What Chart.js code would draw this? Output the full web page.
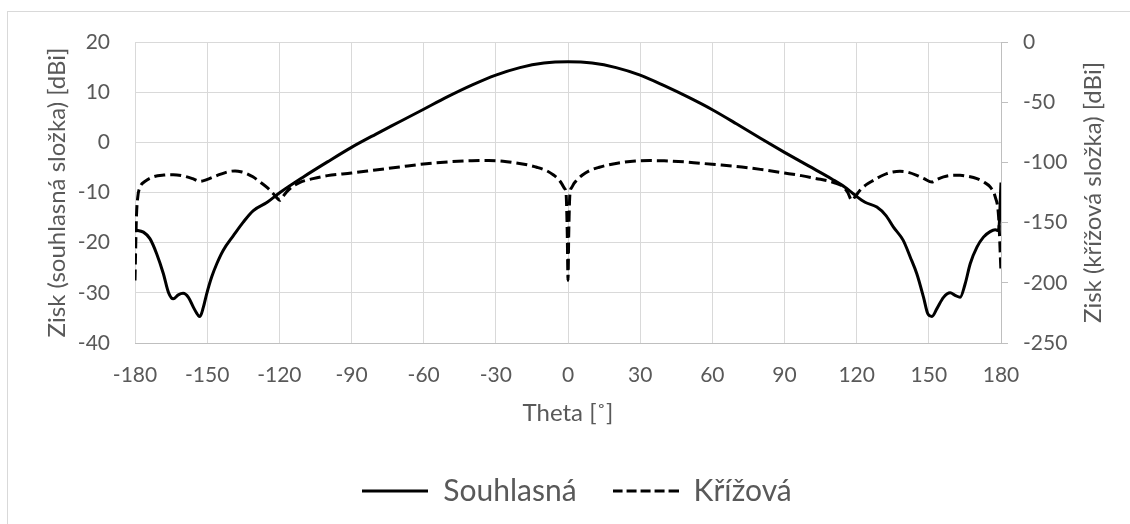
<!DOCTYPE html>
<html><head><meta charset="utf-8">
<script src="https://cdn.jsdelivr.net/npm/chart.js@4"></script>
<style>html,body{margin:0;padding:0;background:#fff;overflow:hidden}</style>
</head><body>
<canvas id="c" width="1130" height="524"></canvas>
<script>
// ---- data ----
const xTickValues = [-180,-150,-120,-90,-60,-30,0,30,60,90,120,150,180];
const yLeftTicks = [20,10,0,-10,-20,-30,-40];
const yRightTicks = [0,-50,-100,-150,-200,-250];

const thetaS = [-180,-176.5,-173.8,-171,-168.2,-166.1,-164.1,-162,-160,-157.8,-155.7,-153.7,-153,-151.6,-150.2,-148.1,-146,-143.3,-139.1,-135,-130.8,-125.2,-120,-110,-100,-90,-80,-70,-60,-50,-40,-30,-20,-10,0,10,20,30,40,50,60,70,80,90,100,110,115,118.7,123.5,128.4,132.2,135.3,139.3,142.3,145,147.8,149.6,151.3,153.3,156.1,158.9,160.9,163,165.1,167.2,170,172.7,175.5,177.6,179,180];
const gainS = [-17.45,-17.9,-19.2,-22.2,-26.2,-29.9,-31.2,-30.4,-30.1,-30.9,-32.9,-34.5,-34.7,-32.9,-30.2,-26.8,-24.2,-21.5,-18.6,-15.9,-13.6,-12.0,-10.1,-6.9,-3.9,-1.0,1.6,4.1,6.6,9.1,11.4,13.4,14.9,15.8,16.05,15.8,14.9,13.4,11.3,9.0,6.5,3.7,0.8,-2.0,-4.7,-7.4,-8.9,-10.3,-11.95,-12.9,-14.6,-16.9,-19.5,-22.9,-26.2,-30.9,-34.2,-34.7,-33.2,-30.9,-30.0,-30.5,-30.9,-28.2,-24.2,-20.9,-18.9,-17.8,-17.45,-17.6,-8.0];

const thetaX = [-180,-179.4,-178.8,-178,-176,-172.4,-168,-164.1,-160,-156,-153,-150.2,-147,-144.7,-141,-138.4,-135.5,-133.6,-131,-128,-125,-122.5,-120.5,-119.7,-118.7,-117,-114.5,-111.4,-106,-100,-90,-80,-70,-60,-50,-40,-33,-27,-22,-17,-13,-9,-6,-4,-2.5,-1.5,-0.8,-0.3,0,0.3,0.8,1.5,2.5,4,6,9,13,17,22,28,34,40,50,60,70,80,90,97,103.4,108,111.8,114.5,116.3,118,119.5,121.4,124,127,130,132.5,135,138,141,145,148,151.3,153.5,156.1,159,163,166,170,173,175.5,177.6,179,180];
const gainX = [-198,-145,-128,-121,-116,-112,-110.5,-110.2,-111.2,-113.5,-115.7,-114.3,-111.8,-110,-107.6,-107.1,-108,-109.3,-112,-116.3,-121,-126,-130.5,-131.5,-129,-124.5,-120,-116.5,-113.5,-111,-108.8,-106.3,-103.8,-101.3,-99.6,-98.6,-98.4,-99.0,-100.3,-102.0,-104.0,-106.8,-110.5,-114,-118,-121.5,-126,-160,-198,-160,-126,-121,-117.5,-114,-110.5,-106.8,-104.0,-102.0,-100.2,-98.9,-98.5,-98.7,-99.8,-101.6,-103.3,-105.8,-108.8,-111,-113.5,-115.3,-117.6,-120.4,-125,-131.5,-128,-123.2,-118.5,-114.9,-111.5,-109.3,-108,-107.4,-108,-110.7,-113.5,-116.3,-114,-112,-110.8,-110.7,-111.5,-113.5,-116.5,-120.4,-128.7,-145,-192];

const seriesNames = ['Souhlasná','Křížová'];
const xTitle = 'Theta [˚]';
const yTitle = 'Zisk (souhlasná složka) [dBi]';
const y2Title = 'Zisk (křížová složka) [dBi]';

// ---- style ----
const FONT = 'Lato';
const TXT = '#595959';
const GRID = '#d9d9d9';
const AXIS = '#bfbfbf';
const TICK_SIZE = 21, TITLE_SIZE = 24, LEGEND_SIZE = 30;
const DASH = [11, 5];

const toPts = (xs, ys) => xs.map((x, i) => ({x, y: ys[i]}));

function legendSymbol(dash) {
  const c = document.createElement('canvas');
  c.width = 66; c.height = 6;
  const g = c.getContext('2d');
  g.strokeStyle = '#000'; g.lineWidth = 3; g.setLineDash(dash);
  g.beginPath(); g.moveTo(0, 3); g.lineTo(66, 3); g.stroke();
  return c;
}

const frame = {
  id: 'frame',
  beforeDraw(chart) {
    const ctx = chart.ctx;
    ctx.save();
    ctx.fillStyle = '#fff';
    ctx.fillRect(0, 0, chart.width, chart.height);
    ctx.strokeStyle = GRID;
    ctx.lineWidth = 1;
    ctx.strokeRect(7.5, 11.5, chart.width + 20, chart.height + 20);
    ctx.restore();
  }
};
const rightTitle = {
  id: 'rightTitle',
  afterDraw(chart) {
    const s = chart.scales.y2, ctx = chart.ctx;
    ctx.save();
    ctx.font = TITLE_SIZE + 'px ' + FONT;
    ctx.fillStyle = TXT;
    ctx.textAlign = 'center';
    ctx.textBaseline = 'middle';
    ctx.translate(s.right - 37, (s.top + s.bottom) / 2);
    ctx.rotate(-Math.PI / 2);
    ctx.fillText(y2Title, 0, 0);
    ctx.restore();
  }
};

Chart.defaults.font.family = FONT;
Chart.defaults.color = TXT;

new Chart(document.getElementById('c'), {
  type: 'line',
  data: {
    datasets: [
      { label: seriesNames[0], data: toPts(thetaS, gainS), yAxisID: 'y',
        borderColor: '#000', backgroundColor: '#000', borderWidth: 3,
        pointRadius: 0, pointStyle: legendSymbol([]),
        cubicInterpolationMode: 'monotone', fill: false },
      { label: seriesNames[1], data: toPts(thetaX, gainX), yAxisID: 'y2',
        borderColor: '#000', backgroundColor: '#000', borderWidth: 3, borderDash: DASH,
        pointRadius: 0, pointStyle: legendSymbol([10, 4]),
        cubicInterpolationMode: 'monotone', fill: false }
    ]
  },
  options: {
    responsive: false,
    animation: false,
    devicePixelRatio: 1,
    layout: { padding: { top: 42, left: 24, right: 0, bottom: 14 } },
    plugins: {
      tooltip: { enabled: false },
      legend: {
        position: 'bottom',
        maxHeight: 70,
        labels: {
          usePointStyle: true, pointStyleWidth: 66,
          font: { size: LEGEND_SIZE }, color: TXT, padding: 36
        }
      }
    },
    scales: {
      x: {
        type: 'linear', min: -180, max: 180,
        afterBuildTicks: s => { s.ticks = xTickValues.map(v => ({value: v})); },
        afterFit: s => { s.height = 97; },
        ticks: { font: { size: TICK_SIZE }, color: TXT, padding: 19.4, maxRotation: 0, autoSkip: false },
        grid: { color: GRID, lineWidth: 1, drawTicks: false },
        border: { display: true, color: AXIS, width: 1 },
        title: { display: true, text: xTitle, font: { size: TITLE_SIZE }, color: TXT, padding: { top: 0, bottom: 12.6 } }
      },
      y: {
        position: 'left', min: -40, max: 20,
        afterBuildTicks: s => { s.ticks = yLeftTicks.map(v => ({value: v})); },
        afterFit: s => { s.width = 111; },
        ticks: { font: { size: TICK_SIZE }, color: TXT, padding: 25 },
        grid: { color: GRID, lineWidth: 1, drawTicks: false },
        border: { display: false },
        title: { display: true, text: yTitle, font: { size: TITLE_SIZE }, color: TXT, padding: { top: 18.6, bottom: 0 } }
      },
      y2: {
        position: 'right', min: -250, max: 0,
        afterBuildTicks: s => { s.ticks = yRightTicks.map(v => ({value: v})); },
        afterFit: s => { s.width = 129; },
        ticks: { font: { size: TICK_SIZE }, color: TXT, padding: 15 },
        grid: { drawOnChartArea: false, drawTicks: true, tickLength: 7, color: AXIS },
        border: { display: true, color: AXIS, width: 1 }
      }
    }
  },
  plugins: [frame, rightTitle]
});
</script>
</body></html>
